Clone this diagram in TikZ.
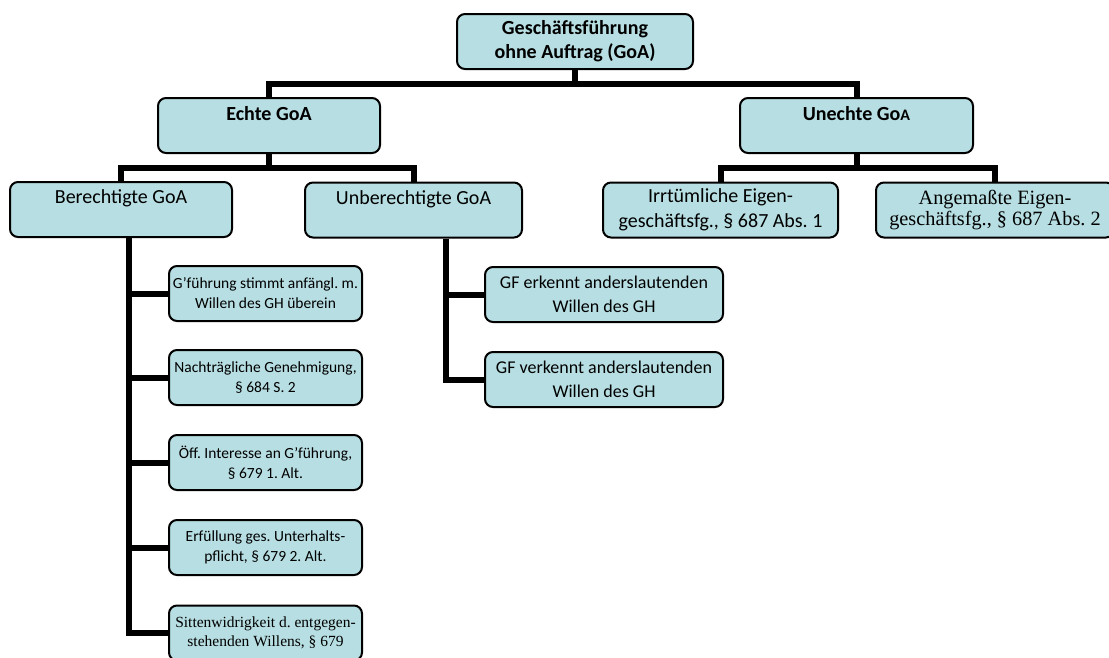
\documentclass[tikz,border=0pt]{standalone}
\usepackage{fontspec}
\setmainfont{Carlito}
\newfontfamily\timesfont{Liberation Serif}
\usetikzlibrary{backgrounds}
\definecolor{boxfill}{RGB}{183,222,226}
\frenchspacing
\tikzset{
    goabox/.style={
      draw=black, line width=2pt, fill=boxfill, rounded corners=8pt,
      align=center, inner xsep=0pt, inner ysep=2pt, minimum height=55pt,
      font=\normalfont\fontsize{20}{25}\selectfont,
    },
    casebox/.style={goabox, minimum width=193pt, font=\normalfont\fontsize{15.5}{20}\selectfont},
    gfbox/.style={goabox, minimum width=238pt, font=\normalfont\fontsize{18}{24}\selectfont},
    branch/.style={draw=black, line width=6pt, line join=miter},
  }

\begin{document}
\begin{tikzpicture}[x=1pt,y=-1pt]
      \useasboundingbox (0,0) rectangle (1109,657);
      \clip (0,0) rectangle (1109,657);

      % top level
      \node[goabox, minimum width=236pt, font=\bfseries\fontsize{20}{24}\selectfont] (goa) at (575,41.5)
         {Geschäftsführung\\ohne Auftrag (GoA)};

      % second level
      \node[goabox, minimum width=222pt] (echte) at (269,125.5) {\textbf{Echte GoA}\\~};
      \node[goabox, minimum width=233pt] (unechte) at (856.5,125.5)
         {\textbf{Unechte Go{\fontsize{16}{16}\selectfont A}}\\~};

      % third level
      \node[goabox, minimum width=222pt] (berecht) at (121,209.5) {Berechtigte GoA\\~};
      \node[goabox, minimum width=217pt] (unberecht) at (413.5,210) {Unberechtigte GoA\\~};
      \node[goabox, minimum width=235pt] (irrtum) at (720.5,210) {Irrtümliche Eigen-\\geschäftsfg., § 687 Abs. 1};
      \node[goabox, minimum width=238pt, font=\timesfont\fontsize{20.3}{21}\selectfont] (angemasst) at (995,210)
         {Angemaßte Eigen-\\geschäftsfg., § 687 Abs. 2};

      % cases of berechtigte GoA
      \node[casebox] (ber1) at (265.5,293.5) {G’führung stimmt anfängl. m.\\Willen des GH überein};
      \node[casebox] (ber2) at (265.5,377.5) {Nachträgliche Genehmigung,\\§ 684 S. 2};
      \node[casebox] (ber3) at (265.5,462.5) {Öff. Interesse an G’führung,\\§ 679 1. Alt.};
      \node[casebox] (ber4) at (265.5,547.5) {Erfüllung ges. Unterhalts-\\pflicht, § 679 2. Alt.};
      \node[casebox, font=\timesfont\fontsize{15.5}{19}\selectfont] (ber5) at (265.5,633)
         {Sittenwidrigkeit d. entgegen-\\stehenden Willens, § 679};

      % cases of unberechtigte GoA
      \node[gfbox] (unb1) at (604,294.5) {GF erkennt anderslautenden\\Willen des GH};
      \node[gfbox] (unb2) at (604,379.5) {GF verkennt anderslautenden\\Willen des GH};

      % connectors
      \coordinate (bar1) at (0,84);
      \coordinate (bar2) at (0,168);
      \coordinate (lspine) at (129,0);
      \coordinate (rspine) at (446,0);
      \begin{scope}[on background layer]
        \draw[branch] (goa.south) -- (goa.south |- bar1) -| (echte.north);
        \draw[branch] (goa.south |- bar1) -| (unechte.north);
        \draw[branch] (echte.south) -- (echte.south |- bar2) -| (berecht.north);
        \draw[branch] (echte.south |- bar2) -| (unberecht.north);
        \draw[branch] (unechte.south) -- (unechte.south |- bar2) -| (irrtum.north);
        \draw[branch] (unechte.south |- bar2) -| (angemasst.north);
        \draw[branch] (berecht.south -| lspine) |- (ber5.west);
        \foreach \n in {ber1,ber2,ber3,ber4}
          \draw[branch] (lspine |- \n.west) -- (\n.west);
        \draw[branch] (unberecht.south -| rspine) |- (unb2.west);
        \draw[branch] (rspine |- unb1.west) -- (unb1.west);
      \end{scope}
    \end{tikzpicture}
\end{document}
